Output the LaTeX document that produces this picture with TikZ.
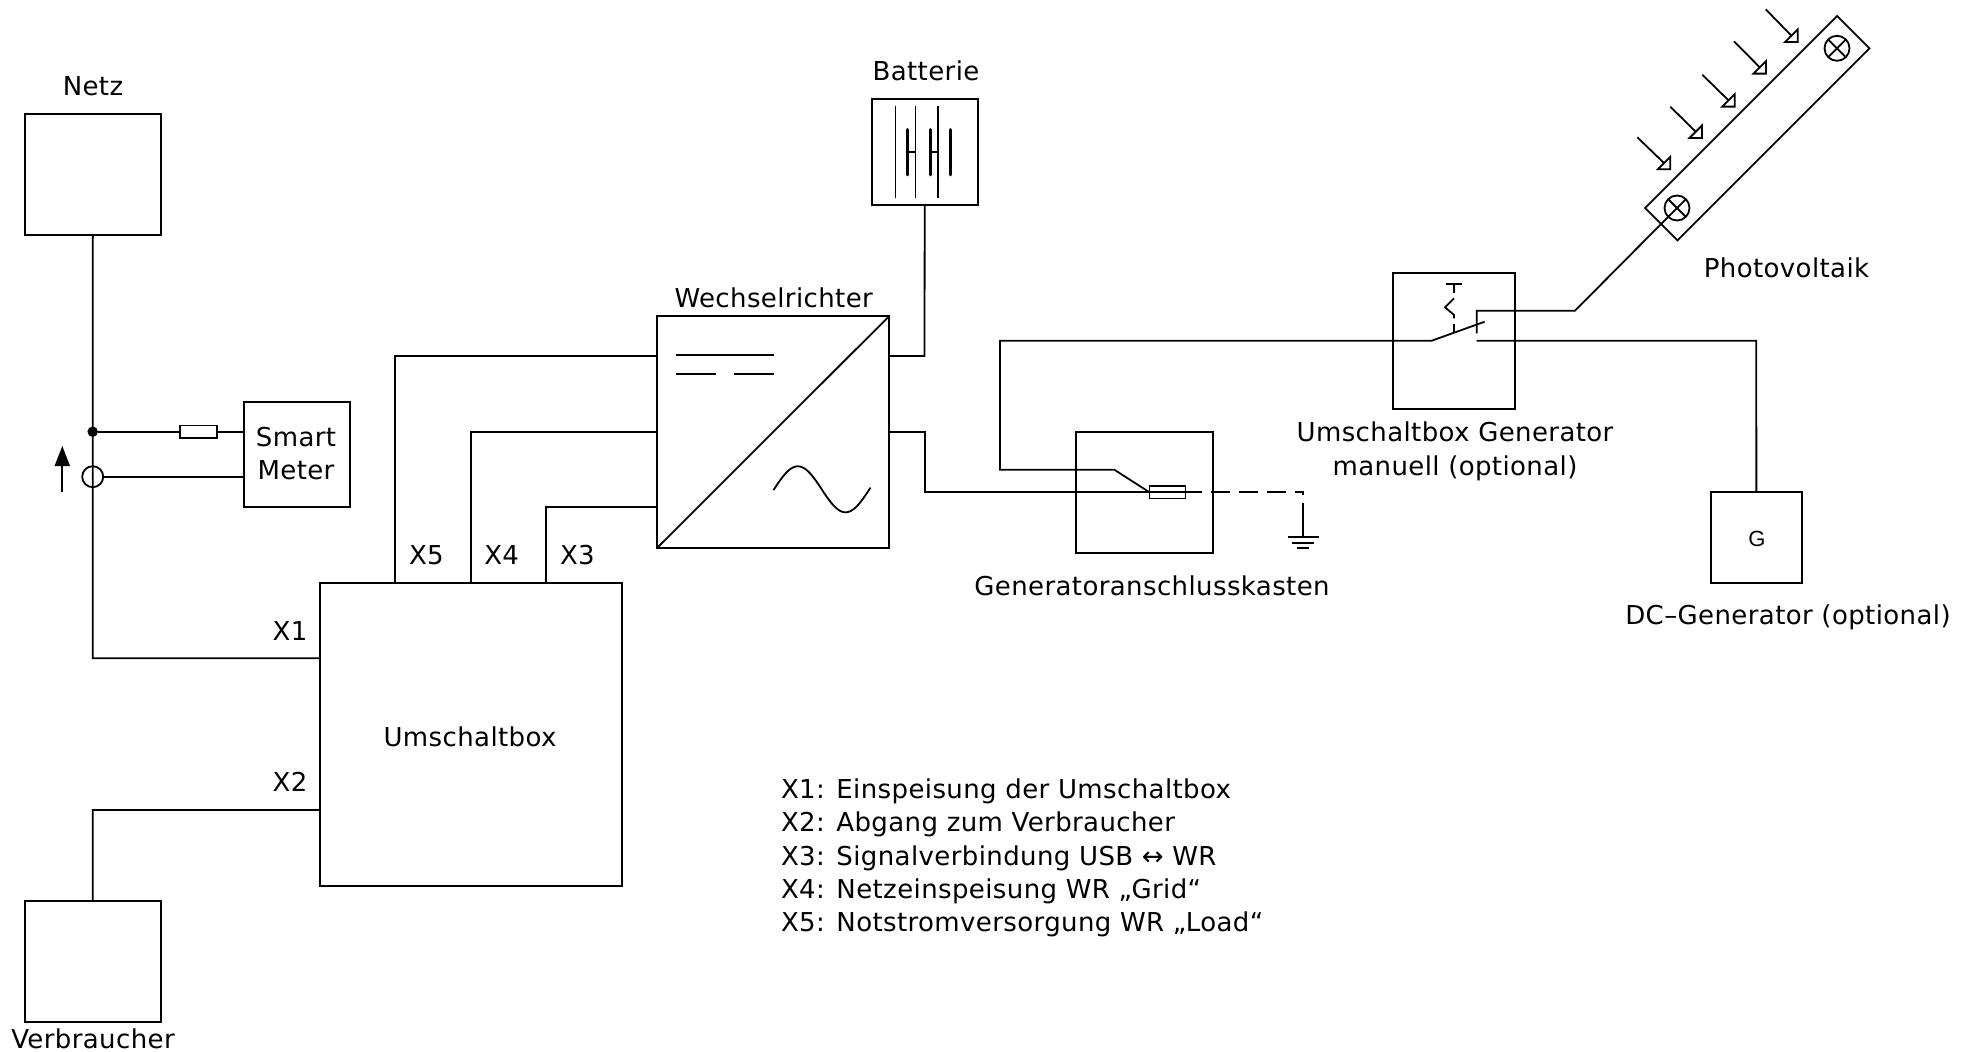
\documentclass[tikz,border=0pt]{standalone}
\usepackage{fontspec}
\setmainfont[LetterSpace=1.5]{DejaVu Sans}
\newfontfamily\gfont{Liberation Sans}
\usetikzlibrary{arrows.meta}
\tikzset{
  wire/.style={line width=1.8pt,line cap=butt,line join=miter},
  box/.style={draw,line width=1.8pt,inner sep=0pt,outer sep=0pt,fill=none},
  fuse/.style={draw,line width=1.8pt,inner sep=0pt,outer sep=0pt,fill=white,minimum width=36pt,minimum height=12.5pt},
  lab/.style={inner sep=0pt,outer sep=0pt,anchor=base,font=\fontsize{26}{33}\selectfont},
  labw/.style={lab,anchor=base west},
  cross/.style={circle,draw,line width=1.8pt,inner sep=0pt,outer sep=0pt,minimum size=25pt}
}
\begin{document}
\begin{tikzpicture}[x=1pt,y=-1pt]
\useasboundingbox (0,0) rectangle (1973,1052);
% boxes
\node[box,minimum width=136.3pt,minimum height=121.3pt] (netz) at (92.85,174.35) {};
\node[box,minimum width=136.3pt,minimum height=121pt] (verb) at (92.85,961.2) {};
\node[box,minimum width=302.6pt,minimum height=302.7pt] (ubox) at (471,734.35) {};
\node[box,minimum width=106.3pt,minimum height=105.3pt] (smart) at (296.85,454.35) {};
\node[box,minimum width=232pt,minimum height=231.7pt] (wr) at (773.3,431.85) {};
\node[box,minimum width=106pt,minimum height=106pt] (batt) at (924.7,152) {};
\node[box,minimum width=136.4pt,minimum height=121pt] (gak) at (1144.5,492.2) {};
\node[box,minimum width=121.4pt,minimum height=136pt] (ubg) at (1454,341) {};
\node[box,minimum width=91.3pt,minimum height=91pt] (gen) at (1756.35,537.8) {};
\node[box,rotate=45,minimum width=271.5pt,minimum height=45.8pt] (pv) at (1757.3,128.2) {};
% labels
\node[lab] (tnetz) at (93,95.7) {Netz};
\node[lab] (tverb) at (93,1048.3) {Verbraucher};
\node[lab] (tubox) at (470,746) {Umschaltbox};
\node[lab] (tsm1) at (296,446.7) {Smart};
\node[lab] (tsm2) at (296,479.3) {Meter};
\node[lab] (twr) at (773.7,307.3) {Wechselrichter};
\node[lab] (tbatt) at (926,80) {Batterie};
\node[lab] (tpv) at (1786.5,277.3) {Photovoltaik};
\node[lab] (tubg1) at (1455,441.7) {Umschaltbox Generator};
\node[lab] (tubg2) at (1455,475) {manuell (optional)};
\node[lab] (tgak) at (1152,595) {Generatoranschlusskasten};
\node[lab] (tdc) at (1788,624.3) {DC–Generator (optional)};
\node[inner sep=0pt,anchor=center,font=\fontsize{22}{26}\selectfont\gfont] (tg) at (1756.9,538.6) {G};
\node[labw] (tx1) at (272.7,640) {X1};
\node[labw] (tx2) at (272.7,791.7) {X2};
\node[labw] (tx5) at (409,564.3) {X5};
\node[labw] (tx4) at (484.3,564.3) {X4};
\node[labw] (tx3) at (560,564.3) {X3};
\node[labw] (l1) at (781,798.3) {X1: Einspeisung der Umschaltbox};
\node[labw] (l2) at (781,831.7) {X2: Abgang zum Verbraucher};
\node[labw] (l3) at (781,865) {X3: Signalverbindung USB ↔ WR};
\node[labw] (l4) at (781,898.3) {X4: Netzeinspeisung WR „Grid“};
\node[labw] (l5) at (781,931.7) {X5: Notstromversorgung WR „Load“};
% grid feed line with dot and measuring circle
\coordinate (c1) at (92.7,658.3);
\coordinate (c2) at (92.7,810);
\draw[wire] (netz.south) -- (c1) -- (ubox.west |- c1);
\draw[wire] (verb.north) -- (c2) -- (ubox.west |- c2);
\node[circle,fill=black,inner sep=0pt,minimum size=10.5pt] (dot) at (92.7,431.7) {};
\node[circle,draw,line width=1.8pt,inner sep=0pt,outer sep=0pt,minimum size=21pt] (ct) at (92.7,476.7) {};
\node[fuse,minimum width=37pt] (f1) at (198.5,431.7) {};
\draw[wire] (dot) -- (f1.west);
\draw[wire] (f1.east) -- (smart.west |- f1.east);
\draw[wire] (ct.east) -- (smart.west |- ct.east);
\coordinate (ar0) at (62.3,492);
\coordinate (ar1) at (62.3,446);
\draw[wire,-{Triangle[length=20pt,width=15pt]}] (ar0) -- (ar1);
% X5, X4, X3
\coordinate (k5) at (395,356);
\coordinate (k4) at (470.7,431.7);
\coordinate (k3) at (546.3,507.3);
\draw[wire] (ubox.north -| k5) -- (k5) -- (wr.west |- k5);
\draw[wire] (ubox.north -| k4) -- (k4) -- (wr.west |- k4);
\draw[wire] (ubox.north -| k3) -- (k3) -- (wr.west |- k3);
% inverter symbols
\draw[wire] (wr.south west) -- (wr.north east);
\coordinate (d1a) at (676,355);   \coordinate (d1b) at (773.7,355);
\coordinate (d2a) at (676,374.3); \coordinate (d2b) at (716.3,374.3);
\coordinate (d3a) at (734.3,374.3); \coordinate (d3b) at (773.7,374.3);
\draw[wire] (d1a) -- (d1b);
\draw[wire] (d2a) -- (d2b);
\draw[wire] (d3a) -- (d3b);
\draw[wire,line join=round,domain=773.5:870.5,samples=60,smooth] plot (\x,{489.3-23*sin((\x-774)/95.4*360)});
% battery
\coordinate (b1) at (924.5,356);
\draw[wire] (batt.south) -- (b1) -- (wr.east |- b1);
\foreach \xx in {895.7,915.3,938} \draw[line width=1.5pt] (\xx,106) -- (\xx,197.7);
\foreach \xx in {907.7,930.3,950} \draw[line width=3pt,line cap=round] (\xx,129.5) -- (\xx,174.8);
\draw[wire] (907.7,152) -- (915.3,152);
\draw[wire] (930.3,152) -- (938,152);
% AC output to generator box
\node[fuse] (f2) at (1167.5,492.3) {};
\coordinate (a1) at (924.7,431.7);
\coordinate (a2) at (924.7,492.3);
\draw[wire] (wr.east |- a1) -- (a1) -- (a2) -- (f2.east);
\coordinate (gnd) at (1303.3,492.3);
\coordinate (gndend) at (1303.3,495);
\draw[wire,dash pattern=on 19pt off 9pt,dash phase=3pt] (f2.east) -- (gnd) -- (gndend);
\coordinate (g0) at (1303.3,503.3);
\coordinate (g1) at (1303.3,537.3);
\draw[wire] (g0) -- (g1);
\draw[wire] (1287.7,537.3) -- (1318.9,537.3);
\draw[wire] (1292.3,542.7) -- (1314.3,542.7);
\draw[wire] (1297.3,548) -- (1309.3,548);
% generator box upper line and switch
\coordinate (s1) at (1000,340.7);
\coordinate (s2) at (1000,469.7);
\coordinate (s3) at (1114.3,469.7);
\coordinate (s4) at (1431.7,340.7);
\coordinate (s5) at (1484.7,321.7);
\draw[wire] (f2.west) -- (s3) -- (s2) -- (s1) -- (s4) -- (s5);
\coordinate (t1) at (1476.7,333.3);
\coordinate (t2) at (1476.7,310.7);
\coordinate (t3) at (1575,310.7);
\node[cross] (pv1) at (1677,208) {};
\node[cross] (pv2) at (1837,48.3) {};
\foreach \cc in {pv1,pv2} {
  \draw[wire] (\cc.45) -- (\cc.225);
  \draw[wire] (\cc.135) -- (\cc.315);
}
\draw[wire] (t1) -- (t2) -- (t3) -- (pv1.225);
% lower contact to DC generator
\coordinate (u0) at (1476.7,340.7);
\coordinate (u1) at (1756.3,340.7);
\draw[wire] (u0) -- (u1) -- (gen.north);
% actuator of the switch
\coordinate (m0) at (1446,284);
\coordinate (m1) at (1462,284);
\coordinate (m2) at (1454,284);
\coordinate (m3) at (1454,292.7);
\coordinate (m4) at (1454,298.3);
\coordinate (m5) at (1445,307.3);
\coordinate (m6) at (1454,315);
\coordinate (m7) at (1454,318.3);
\coordinate (m8) at (1454,324);
\coordinate (m9) at (1454,332.7);
\draw[wire] (m0) -- (m1);
\draw[wire] (m2) -- (m3);
\draw[wire] (m4) -- (m5) -- (m6) -- (m7);
\draw[wire] (m8) -- (m9);
% sun rays
\coordinate (r1a) at (1765.7,9.3);  \coordinate (r1b) at (1797.7,42);
\coordinate (r2a) at (1734,41.3);   \coordinate (r2b) at (1766,73.6);
\coordinate (r3a) at (1702.3,74.7); \coordinate (r3b) at (1734.7,106.6);
\coordinate (r4a) at (1670.3,106.7);\coordinate (r4b) at (1702,138);
\coordinate (r5a) at (1637.3,137.3);\coordinate (r5b) at (1670.3,169.3);
\foreach \rr in {r1,r2,r3,r4,r5} {
  \draw[wire] (\rr a) -- ([shift={(-6,-6)}]\rr b);
  \draw[wire] (\rr b) +(0,-12.5) -- (\rr b) -- +(-12.5,0) -- cycle;
}
\end{tikzpicture}
\end{document}
